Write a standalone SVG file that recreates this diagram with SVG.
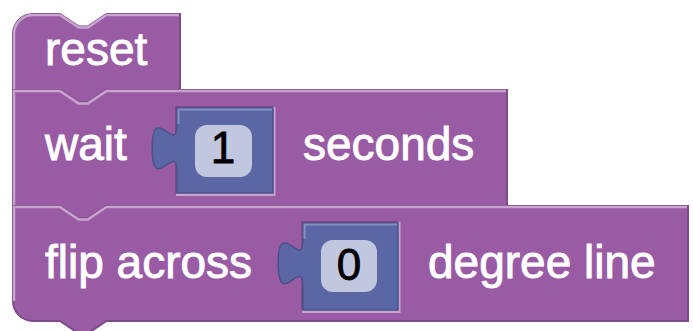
<svg xmlns="http://www.w3.org/2000/svg" width="693" height="331" viewBox="0 0 693 331">
<style>
.body{fill:#9a5ba5;stroke:#7f4a8a;stroke-width:2}
.hl{fill:none;stroke:#c7a4cd;stroke-width:2.5}
.sockhl{fill:none;stroke:#c7a4cd;stroke-width:3}
.socksh{fill:none;stroke:#7f4a8a;stroke-width:2}
.vbody{fill:#5b67a5;stroke:#4a5388;stroke-width:1.5}
.vhl{fill:none;stroke:#8690c2;stroke-width:2}
.field{fill:#c2c7e0}
.lbl{font-family:"Liberation Sans",Arial,sans-serif;font-size:46px;fill:#ffffff;stroke:#ffffff;stroke-width:0.9}
.num{font-family:"Liberation Sans",Arial,sans-serif;font-size:44px;fill:#000000;stroke:#000000;stroke-width:0.8;text-anchor:middle}
</style>
<rect width="693" height="331" fill="#ffffff"/>
<g id="block-reset">
<path class="body" d="M13,34 A20,20 0 0 1 33,14 H60 l18.6,12.4 h9.3 L106.5,14 H180 V90 H106.5 l-18.6,12.4 h-9.3 L60,90 H13 Z"/>
<path class="hl" d="M14,90 V34 A19,19 0 0 1 33,15 H60 l18.6,12.4 h9.3 L106.5,15 H179"/>
<text class="lbl" x="45" y="65">reset</text>
</g>
<g id="block-wait">
<path class="body" d="M13,90 H60 l18.6,12.4 h9.3 L106.5,90 H507 V206 H106.5 l-18.6,12.4 h-9.3 L60,206 H13 Z"/>
<path class="hl" d="M14,206 V91 H60 l18.6,12.4 h9.3 L106.5,91 H506"/>
<text class="lbl" x="45" y="160">wait</text>
<text class="lbl" x="303" y="160">seconds</text>
<path class="socksh" d="M176,193 V107 H273"/>
<path class="sockhl" d="M274,107 V194.5 H176"/>
<g id="value-1">
<path class="vbody" d="M273,108 H177 V125 c0,31 -24.8,-24.8 -24.8,23.25 s24.8,-7.75 24.8,23.25 V193 H273 Z"/>
<path class="vhl" d="M178.5,124 V109.5 H272"/>
<rect class="field" x="195" y="125" width="57" height="52" rx="12" ry="12"/>
<text class="num" x="223" y="163">1</text>
</g>
</g>
<g id="block-flip">
<path class="body" d="M13,206 H60 l18.6,12.4 h9.3 L106.5,206 H688 V321 H106.5 l-18.6,12.4 h-9.3 L60,321 H33 A20,20 0 0 1 13,301 Z"/>
<path class="hl" d="M14,301 V207 H60 l18.6,12.4 h9.3 L106.5,207 H687"/>
<text class="lbl" x="45" y="278">flip across</text>
<text class="lbl" x="428" y="278">degree line</text>
<path class="socksh" d="M302,310 V222 H398"/>
<path class="sockhl" d="M399,222 V311.5 H302"/>
<g id="value-0">
<path class="vbody" d="M398,223 H303 V240 c0,31 -24.8,-24.8 -24.8,23.25 s24.8,-7.75 24.8,23.25 V310 H398 Z"/>
<path class="vhl" d="M304.5,239 V224.5 H397"/>
<rect class="field" x="321" y="240" width="56" height="52" rx="12" ry="12"/>
<text class="num" x="349" y="280">0</text>
</g>
</g>
<g id="connectors"></g>
</svg>
